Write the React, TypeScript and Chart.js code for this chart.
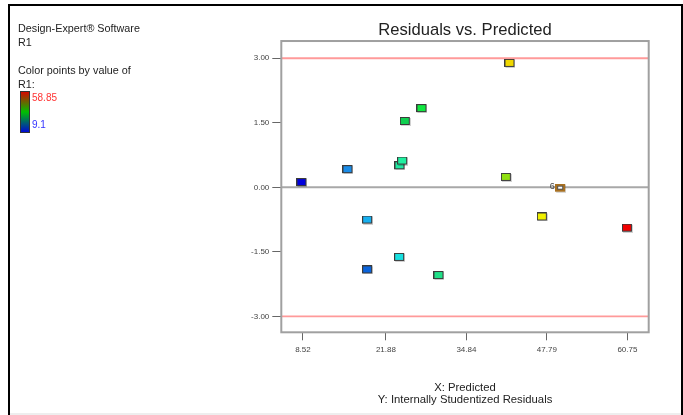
import { useEffect, useRef } from "react";
import { Chart, registerables } from "chart.js";

Chart.register(...registerables);

// ---- data ----
const predicted = [8.36, 15.77, 18.94, 18.94, 24.09, 24.14, 24.57, 25.0, 27.68, 30.42, 41.27, 41.85, 47.06, 50.01, 60.75];
const residuals = [0.11, 0.41, -0.76, -1.92, -1.63, 0.5, 0.61, 1.53, 1.83, -2.05, 0.23, 2.88, -0.69, -0.02, -0.95];
const pointColors = [
  "#0000dd", "#1a8ce8", "#18b0f0", "#0a64dc", "#18e0e0", "#20e8a0", "#20f0a0",
  "#10d050", "#10e840", "#20e088", "#90e010", "#f0d800", "#f0f000", "#ffffff", "#f00000",
];
const hollowIndex = 13;
const hollowLabel = "6";

const xTickValues = [8.52, 21.88, 34.84, 47.79, 60.75];
const xTickLabels = ["8.52", "21.88", "34.84", "47.79", "60.75"];
const yTickValues = [-3, -1.5, 0, 1.5, 3];
const yTickLabels = ["-3.00", "-1.50", "0.00", "1.50", "3.00"];
const limitLines = [3, -3];

const titleText = "Residuals vs. Predicted";
const axisTitleLines = ["X: Predicted", "Y: Internally Studentized Residuals"];
const sideTitle = ["Design-Expert® Software", "R1"];
const colorByLines = ["Color points by value of", "R1:"];
const colorHigh = "58.85";
const colorLow = "9.1";

const FAMILY = '"Liberation Sans", Arial, sans-serif';

function makeMarker(color: string, hollow: boolean): HTMLCanvasElement {
  const c = document.createElement("canvas");
  c.width = 11;
  c.height = 9;
  const g = c.getContext("2d")!;
  if (hollow) {
    g.fillStyle = "rgba(0,0,0,0.15)";
    g.fillRect(1, 1, 10, 8);
    g.fillStyle = "#a87020";
    g.fillRect(0, 0, 10, 8);
    g.fillStyle = "#ffffff";
    g.fillRect(2, 2, 6, 4);
    g.strokeStyle = "#555";
    g.lineWidth = 1;
    g.strokeRect(2.5, 2.5, 5, 3);
  } else {
    g.fillStyle = "rgba(0,0,0,0.18)";
    g.fillRect(1, 1, 10, 8);
    g.fillStyle = color;
    g.fillRect(1, 1, 8, 6);
    g.strokeStyle = "#3a3a3a";
    g.lineWidth = 1;
    g.strokeRect(0.5, 0.5, 9, 7);
  }
  return c;
}

const decor = {
  id: "decor",
  beforeDatasetsDraw(chart: any) {
    const { ctx, chartArea: a, scales } = chart;
    const y = scales.y;
    ctx.save();
    ctx.strokeStyle = "#ff9a9a";
    ctx.lineWidth = 1.8;
    limitLines.forEach((v) => {
      const py = y.getPixelForValue(v);
      ctx.beginPath();
      ctx.moveTo(a.left, py);
      ctx.lineTo(a.right, py);
      ctx.stroke();
    });
    const z = y.getPixelForValue(0);
    ctx.strokeStyle = "#a8a8a8";
    ctx.lineWidth = 2;
    ctx.beginPath();
    ctx.moveTo(a.left, z);
    ctx.lineTo(a.right, z);
    ctx.stroke();
    ctx.strokeStyle = "#a0a0a0";
    ctx.lineWidth = 2;
    ctx.strokeRect(a.left, a.top, a.right - a.left, a.bottom - a.top);
    ctx.restore();
  },
  afterDraw(chart: any) {
    const { ctx, scales } = chart;
    ctx.save();
    // center-point count label
    const hx = scales.x.getPixelForValue(predicted[hollowIndex]);
    const hy = scales.y.getPixelForValue(residuals[hollowIndex]);
    ctx.font = `9px ${FAMILY}`;
    ctx.fillStyle = "#444";
    ctx.textAlign = "center";
    ctx.textBaseline = "middle";
    ctx.fillText(hollowLabel, hx - 8.5, hy - 1.5);

    // side legend
    ctx.textAlign = "left";
    ctx.fillStyle = "#222";
    ctx.font = `10.8px ${FAMILY}`;
    ctx.fillText(sideTitle[0], 18, 29);
    ctx.fillText(sideTitle[1], 18, 43);
    ctx.fillText(colorByLines[0], 18, 71);
    ctx.fillText(colorByLines[1], 18, 85);

    const grad = ctx.createLinearGradient(0, 91, 0, 133);
    grad.addColorStop(0, "#e00000");
    grad.addColorStop(0.5, "#00c000");
    grad.addColorStop(1, "#0000e0");
    ctx.fillStyle = grad;
    ctx.fillRect(20, 91, 10, 42);
    ctx.strokeStyle = "#333";
    ctx.lineWidth = 1;
    ctx.strokeRect(20.5, 91.5, 9, 41);

    ctx.font = `10px ${FAMILY}`;
    ctx.fillStyle = "#ff3333";
    ctx.fillText(colorHigh, 32, 98);
    ctx.fillStyle = "#3333ff";
    ctx.fillText(colorLow, 32, 125);

    // outer frame
    ctx.fillStyle = "#000";
    ctx.fillRect(8, 4, 2, 411);
    ctx.fillRect(8, 4, 675, 2);
    ctx.fillRect(681, 4, 2, 411);
    ctx.fillStyle = "#eeeeee";
    ctx.fillRect(10, 413, 671, 2);
    ctx.restore();
  },
};

export default function App() {
  const ref = useRef<HTMLCanvasElement | null>(null);

  useEffect(() => {
    document.body.style.margin = "0";
    const canvas = ref.current;
    if (!canvas) return;
    const markers = pointColors.map((c, i) => makeMarker(c, i === hollowIndex));
    const chart = new Chart(canvas, {
      type: "scatter",
      data: {
        datasets: [
          {
            data: predicted.map((x, i) => ({ x, y: residuals[i] })),
            pointStyle: (ctx: any) => markers[ctx.dataIndex] as any,
            pointRadius: 5,
            pointHoverRadius: 5,
            backgroundColor: pointColors,
            borderColor: "#333",
          } as any,
        ],
      },
      options: {
        animation: false,
        responsive: false,
        devicePixelRatio: 1,
        layout: { padding: { top: 0, right: 34.3, bottom: 0, left: 0 } },
        plugins: {
          legend: { display: false },
          tooltip: { enabled: false },
          title: {
            display: true,
            text: titleText,
            fullSize: false,
            color: "#222",
            font: { family: FAMILY, size: 16.6, weight: "normal" as any, lineHeight: 1.2 },
            padding: { top: 20.7, bottom: 0.4 },
          },
        },
        scales: {
          x: {
            type: "linear",
            min: 5.04,
            max: 64.18,
            afterFit: (s: any) => {
              s.height = 82.7;
            },
            afterBuildTicks: (s: any) => {
              s.ticks = xTickValues.map((v) => ({ value: v }));
            },
            ticks: {
              autoSkip: false,
              maxRotation: 0,
              callback: (_v: any, i: number) => xTickLabels[i],
              color: "#444",
              font: { family: FAMILY, size: 8 },
              padding: 4.9,
            },
            grid: {
              drawOnChartArea: false,
              drawTicks: true,
              tickLength: 8,
              tickColor: "#666",
              tickWidth: 1,
            },
            border: { display: false },
            title: {
              display: true,
              text: axisTitleLines,
              color: "#222",
              font: { family: FAMILY, size: 11.3, lineHeight: 1.1 },
              padding: { top: 0, bottom: 8.8 },
            },
          },
          y: {
            type: "linear",
            min: -3.37,
            max: 3.4,
            afterFit: (s: any) => {
              s.width = 281.3;
            },
            afterBuildTicks: (s: any) => {
              s.ticks = yTickValues.map((v) => ({ value: v }));
            },
            ticks: {
              autoSkip: false,
              callback: (_v: any, i: number) => yTickLabels[i],
              color: "#444",
              font: { family: FAMILY, size: 8 },
              padding: 3,
            },
            grid: {
              drawOnChartArea: false,
              drawTicks: true,
              tickLength: 9,
              tickColor: "#666",
              tickWidth: 1,
            },
            border: { display: false },
          },
        },
      },
      plugins: [decor],
    });
    return () => chart.destroy();
  }, []);

  return (
    <div style={{ width: 683, height: 415, position: "relative", background: "#fff" }}>
      <canvas ref={ref} width={683} height={415} style={{ width: 683, height: 415, display: "block" }} />
    </div>
  );
}
